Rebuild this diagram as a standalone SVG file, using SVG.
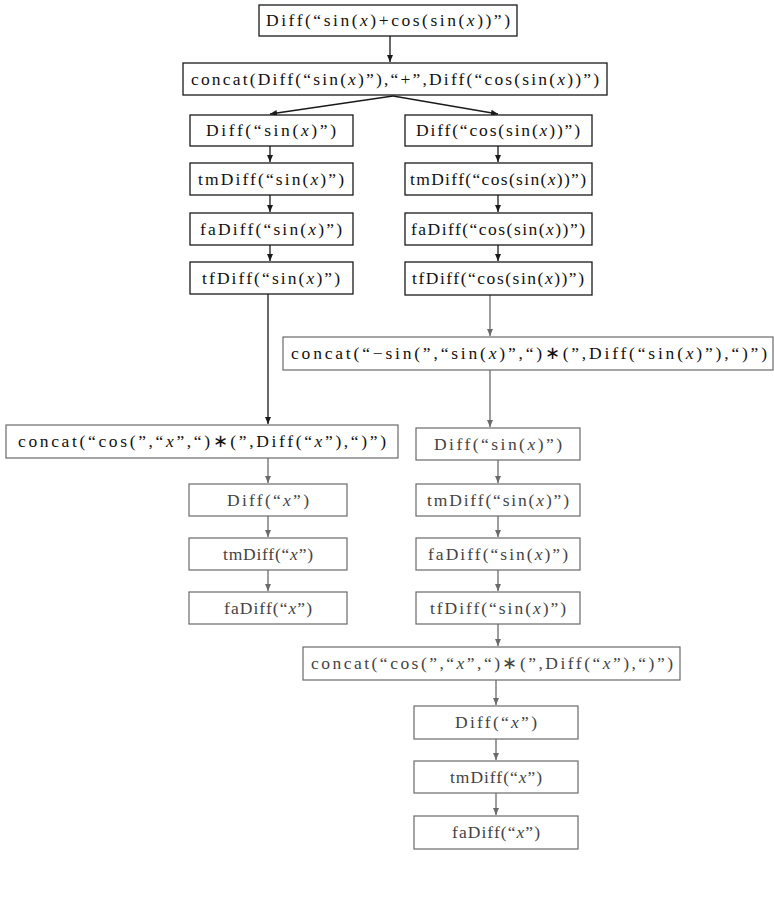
<svg xmlns="http://www.w3.org/2000/svg" width="774" height="901" viewBox="0 0 774 901">
<style>
rect.n{fill:#fff;stroke:#1a1a1a;stroke-width:1.3}
rect.g{fill:#fff;stroke:#6a6a6a;stroke-width:1.2}
text{font-family:"Liberation Serif","Times New Roman",serif;font-size:17.5px;text-anchor:middle;fill:#111}
text.g{fill:#444}
tspan.i{font-style:italic}
.c line{stroke:#1a1a1a;stroke-width:1.3}
.c line.g{stroke:#6a6a6a}
</style>
<defs>
<marker id="ah" markerWidth="8" markerHeight="8" refX="7" refY="4" orient="auto" markerUnits="userSpaceOnUse">
<path d="M0,1 L7,4 L0,7 Z" fill="#1a1a1a"/>
</marker>
<marker id="ahg" markerWidth="8" markerHeight="8" refX="7" refY="4" orient="auto" markerUnits="userSpaceOnUse">
<path d="M0,1 L7,4 L0,7 Z" fill="#6a6a6a"/>
</marker>
</defs>
<rect width="774" height="901" fill="#fff"/>
<g class="c" id="connectors">
<line x1="390" y1="36" x2="390" y2="62" marker-end="url(#ah)"/>
<line x1="393" y1="96" x2="270" y2="114" marker-end="url(#ah)"/>
<line x1="393" y1="96" x2="498" y2="114" marker-end="url(#ah)"/>
<line x1="270" y1="146" x2="270" y2="162" marker-end="url(#ah)"/>
<line x1="270" y1="195" x2="270" y2="212" marker-end="url(#ah)"/>
<line x1="270" y1="245" x2="270" y2="261" marker-end="url(#ah)"/>
<line x1="268" y1="294" x2="268" y2="424" marker-end="url(#ah)"/>
<line x1="498" y1="146" x2="498" y2="162" marker-end="url(#ah)"/>
<line x1="498" y1="195" x2="498" y2="212" marker-end="url(#ah)"/>
<line x1="498" y1="245" x2="498" y2="261" marker-end="url(#ah)"/>
<line class="g" x1="490" y1="295" x2="490" y2="336" marker-end="url(#ahg)"/>
<line class="g" x1="490" y1="370" x2="490" y2="427" marker-end="url(#ahg)"/>
<line class="g" x1="268" y1="458" x2="268" y2="483" marker-end="url(#ahg)"/>
<line class="g" x1="268" y1="516" x2="268" y2="537" marker-end="url(#ahg)"/>
<line class="g" x1="268" y1="570" x2="268" y2="591" marker-end="url(#ahg)"/>
<line class="g" x1="498" y1="460" x2="498" y2="483" marker-end="url(#ahg)"/>
<line class="g" x1="498" y1="516" x2="498" y2="537" marker-end="url(#ahg)"/>
<line class="g" x1="498" y1="570" x2="498" y2="591" marker-end="url(#ahg)"/>
<line class="g" x1="498" y1="624" x2="498" y2="646" marker-end="url(#ahg)"/>
<line class="g" x1="496" y1="680" x2="496" y2="705" marker-end="url(#ahg)"/>
<line class="g" x1="496" y1="739" x2="496" y2="760" marker-end="url(#ahg)"/>
<line class="g" x1="496" y1="793" x2="496" y2="815" marker-end="url(#ahg)"/>
</g>
<g id="n1"><rect class="n" x="259" y="5" width="258" height="31"/><text x="388" y="26" textLength="244" lengthAdjust="spacing">Diff(“sin(<tspan class="i">x</tspan>)+cos(sin(<tspan class="i">x</tspan>))”)</text></g>
<g id="n2"><rect class="n" x="183" y="63" width="424" height="32"/><text x="395" y="85" textLength="408" lengthAdjust="spacing">concat(Diff(“sin(<tspan class="i">x</tspan>)”),“+”,Diff(“cos(sin(<tspan class="i">x</tspan>))”)</text></g>
<g id="l1"><rect class="n" x="190" y="115" width="163" height="31"/><text x="271" y="136" textLength="130" lengthAdjust="spacing">Diff(“sin(<tspan class="i">x</tspan>)”)</text></g>
<g id="l2"><rect class="n" x="190" y="163" width="163" height="32"/><text x="271" y="185" textLength="146" lengthAdjust="spacing">tmDiff(“sin(<tspan class="i">x</tspan>)”)</text></g>
<g id="l3"><rect class="n" x="190" y="213" width="163" height="32"/><text x="271" y="235" textLength="142" lengthAdjust="spacing">faDiff(“sin(<tspan class="i">x</tspan>)”)</text></g>
<g id="l4"><rect class="n" x="190" y="262" width="163" height="32"/><text x="271" y="284" textLength="138" lengthAdjust="spacing">tfDiff(“sin(<tspan class="i">x</tspan>)”)</text></g>
<g id="r1"><rect class="n" x="405" y="115" width="187" height="31"/><text x="498" y="136" textLength="164" lengthAdjust="spacing">Diff(“cos(sin(<tspan class="i">x</tspan>))”)</text></g>
<g id="r2"><rect class="n" x="405" y="163" width="187" height="32"/><text x="498" y="185" textLength="176" lengthAdjust="spacing">tmDiff(“cos(sin(<tspan class="i">x</tspan>))”)</text></g>
<g id="r3"><rect class="n" x="405" y="213" width="187" height="32"/><text x="498" y="235" textLength="174" lengthAdjust="spacing">faDiff(“cos(sin(<tspan class="i">x</tspan>))”)</text></g>
<g id="r4"><rect class="n" x="405" y="262" width="187" height="33"/><text x="498" y="284" textLength="172" lengthAdjust="spacing">tfDiff(“cos(sin(<tspan class="i">x</tspan>))”)</text></g>
<g id="r5"><rect class="g" x="283" y="337" width="490" height="33"/><text x="529" y="359" textLength="476" lengthAdjust="spacing">concat(“−sin(”,“sin(<tspan class="i">x</tspan>)”,“)∗(”,Diff(“sin(<tspan class="i">x</tspan>)”),“)”)</text></g>
<g id="lc"><rect class="g" x="6" y="425" width="392" height="33"/><text x="202" y="447" textLength="368" lengthAdjust="spacing">concat(“cos(”,“<tspan class="i">x</tspan>”,“)∗(”,Diff(“<tspan class="i">x</tspan>”),“)”)</text></g>
<g id="l5"><rect class="g" x="189" y="484" width="158" height="32"/><text class="g" x="268" y="506" textLength="82" lengthAdjust="spacing">Diff(“<tspan class="i">x</tspan>”)</text></g>
<g id="l6"><rect class="g" x="189" y="538" width="158" height="32"/><text class="g" x="268" y="560" textLength="90" lengthAdjust="spacing">tmDiff(“<tspan class="i">x</tspan>”)</text></g>
<g id="l7"><rect class="g" x="189" y="592" width="158" height="32"/><text class="g" x="268" y="614" textLength="88" lengthAdjust="spacing">faDiff(“<tspan class="i">x</tspan>”)</text></g>
<g id="r6"><rect class="g" x="416" y="428" width="164" height="32"/><text class="g" x="498" y="450" textLength="128" lengthAdjust="spacing">Diff(“sin(<tspan class="i">x</tspan>)”)</text></g>
<g id="r7"><rect class="g" x="416" y="484" width="164" height="32"/><text class="g" x="498" y="506" textLength="142" lengthAdjust="spacing">tmDiff(“sin(<tspan class="i">x</tspan>)”)</text></g>
<g id="r8"><rect class="g" x="416" y="538" width="164" height="32"/><text class="g" x="498" y="560" textLength="140" lengthAdjust="spacing">faDiff(“sin(<tspan class="i">x</tspan>)”)</text></g>
<g id="r9"><rect class="g" x="416" y="592" width="164" height="32"/><text class="g" x="498" y="614" textLength="136" lengthAdjust="spacing">tfDiff(“sin(<tspan class="i">x</tspan>)”)</text></g>
<g id="r10"><rect class="g" x="303" y="647" width="377" height="33"/><text class="g" x="492" y="669" textLength="362" lengthAdjust="spacing">concat(“cos(”,“<tspan class="i">x</tspan>”,“)∗(”,Diff(“<tspan class="i">x</tspan>”),“)”)</text></g>
<g id="r11"><rect class="g" x="414" y="706" width="164" height="33"/><text class="g" x="496" y="728" textLength="82" lengthAdjust="spacing">Diff(“<tspan class="i">x</tspan>”)</text></g>
<g id="r12"><rect class="g" x="414" y="761" width="164" height="32"/><text class="g" x="496" y="783" textLength="92" lengthAdjust="spacing">tmDiff(“<tspan class="i">x</tspan>”)</text></g>
<g id="r13"><rect class="g" x="414" y="816" width="164" height="33"/><text class="g" x="496" y="838" textLength="88" lengthAdjust="spacing">faDiff(“<tspan class="i">x</tspan>”)</text></g>
</svg>
